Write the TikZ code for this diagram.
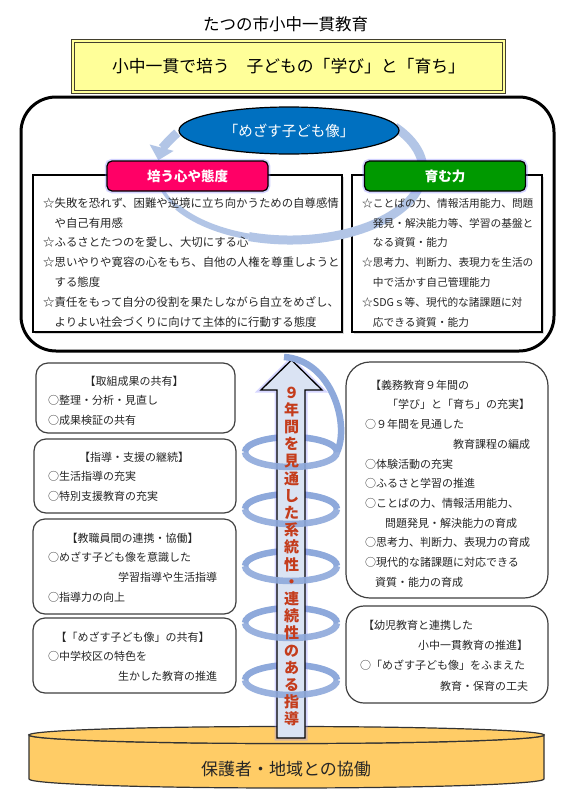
\documentclass[tikz,border=0pt]{standalone}
\usepackage{fontspec}
\setmainfont{Noto Sans CJK JP}
\usetikzlibrary{arrows.meta,shapes.geometric,shadows}
\definecolor{pinktab}{HTML}{FF0066}
\definecolor{greentab}{HTML}{009900}
\definecolor{goalblue}{HTML}{0070C0}
\definecolor{themeyellow}{HTML}{FFFF99}
\definecolor{cycleblue}{HTML}{B2C5E6}
\definecolor{ribbonblue}{HTML}{8EA9DB}
\definecolor{shaftblue}{HTML}{DAE3F3}
\definecolor{shidoured}{HTML}{C43C1C}
\definecolor{discyellow}{HTML}{FFCC66}
\newcommand{\jpsize}[2]{\fontsize{#1}{#2}\selectfont}

\begin{document}
\begin{tikzpicture}[x=1pt,y=-1pt,
  txt/.style={inner sep=0pt,anchor=base west,text=black!85},
  topbox/.style={draw=black,line width=2pt,fill=white,
    drop shadow={shadow xshift=1.5pt,shadow yshift=-1.5pt,opacity=.3}},
  lbox/.style={draw=black!75,line width=1.2pt,fill=white},
  tab/.style={draw=black,line width=1.2pt,rounded corners=5pt,text=white,
    font=\jpsize{13.5}{16}\bfseries,minimum width=161pt,minimum height=30pt,
    preaction={draw=blue!50,line width=4.5pt,opacity=.35}},
  cyc/.style={draw=cycleblue,line width=9pt},
  ribbon/.style={draw=ribbonblue,line width=6.5pt},
  disc/.style={draw=black!80,line width=1.2pt,fill=discyellow}]
\useasboundingbox[fill=white] (0,0) rectangle (577,800);

% heading
\node[font=\jpsize{16.5}{20}] (title) at (285.5,24) {たつの市小中一貫教育};
\node[draw=black!70!olive,double=themeyellow,double distance=2pt,line width=.9pt,
  fill=themeyellow,minimum width=431pt,minimum height=51pt,font=\jpsize{16.8}{20}]
  (theme) at (288.5,66.5) {小中一貫で培う　子どもの「学び」と「育ち」};

% goal frame
\draw[line width=3pt,rounded corners=35pt] (21,97) rectangle (554,351);
\draw[topbox] (33,175) rectangle (342,332);
\draw[topbox] (352,175) rectangle (542,332);

% cycle arrow, thin at the lower left
\draw[cyc,-{Triangle[width=24pt,length=13pt]}] (290,170) ++(212:133 and 70)
  arc[start angle=212,end angle=188,x radius=133,y radius=70];
\draw[cyc,line width=3.5pt] (290,170) ++(186:133 and 70)
  arc[start angle=186,end angle=148,x radius=133,y radius=70];
\draw[cyc,line width=6pt] (290,170) ++(148:133 and 70)
  arc[start angle=148,end angle=108,x radius=133,y radius=70];
\draw[cyc] (290,170) ++(108:133 and 70)
  arc[start angle=108,end angle=-38,x radius=133,y radius=70];

\node[txt,text width=300pt,font=\jpsize{11.4}{19.8}] (kokoroT) at (43,207.2)
  {☆失敗を恐れず、困難や逆境に立ち向かうための自尊感情\\\hspace*{1em}や自己有用感\\☆ふるさとたつのを愛し、大切にする心\\☆思いやりや寛容の心をもち、自他の人権を尊重しようと\\\hspace*{1em}する態度\\☆責任をもって自分の役割を果たしながら自立をめざし、\\\hspace*{1em}よりよい社会づくりに向けて主体的に行動する態度};
\node[txt,text width=180pt,font=\jpsize{10.7}{19.8}] (chikaraT) at (362,207.2)
  {☆ことばの力、情報活用能力、問題\\\hspace*{1em}発見・解決能力等、学習の基盤と\\\hspace*{1em}なる資質・能力\\☆思考力、判断力、表現力を生活の\\\hspace*{1em}中で活かす自己管理能力\\☆SDGｓ等、現代的な諸課題に対\\\hspace*{1em}応できる資質・能力};
\node[ellipse,draw=black,line width=1.2pt,fill=goalblue,minimum width=220pt,
  minimum height=47pt,text=white,font=\jpsize{14.5}{17}] (mezasu) at (289,130.5)
  {「めざす子ども像」};
\node[tab,fill=pinktab] (kokoro) at (187.5,176) {培う心や態度};
\node[tab,fill=greentab] (chikara) at (445,176) {育む力};

% left boxes
\draw[lbox,rounded corners=12pt] (36,363) rectangle (235,433);
\draw[lbox,rounded corners=12pt] (34,439) rectangle (236,513);
\draw[lbox,rounded corners=12pt] (33,519) rectangle (236,614);
\draw[lbox,rounded corners=12pt] (33,618) rectangle (236,693);
\node[txt,text width=172pt,font=\jpsize{11}{19.6}] (torikumi) at (48,385.2)
  {{\centering 【取組成果の共有】\par}○整理・分析・見直し\\○成果検証の共有};
\node[txt,text width=172pt,font=\jpsize{11}{19.6}] (keizoku) at (48,461.2)
  {{\centering 【指導・支援の継続】\par}○生活指導の充実\\○特別支援教育の充実};
\node[txt,text width=169pt,font=\jpsize{11}{19.7}] (renkei) at (48,542.2)
  {{\centering 【教職員間の連携・協働】\par}○めざす子ども像を意識した\\\hspace*{\fill}学習指導や生活指導\\○指導力の向上};
\node[txt,text width=169pt,font=\jpsize{11}{19.7}] (kyoyu) at (48,641.2)
  {{\centering 【「めざす子ども像」の共有】\par}○中学校区の特色を\\\hspace*{\fill}生かした教育の推進};

% right boxes
\draw[lbox,rounded corners=24pt] (346,362) rectangle (548,598);
\draw[lbox,rounded corners=18pt] (346,606) rectangle (548,703);
\node[txt,text width=165pt,font=\jpsize{11}{19.7}] (gimu) at (365,389.2)
  {\hspace*{5pt}【義務教育９年間の\\\hspace*{\fill}「学び」と「育ち」の充実】\\○９年間を見通した\\\hspace*{\fill}教育課程の編成\hspace*{7pt}\\○体験活動の充実\\○ふるさと学習の推進\\○ことばの力、情報活用能力、\\\hspace*{20pt}問題発見・解決能力の育成\\○思考力、判断力、表現力の育成\\○現代的な諸課題に対応できる\\\hspace*{10pt}資質・能力の育成};
\node[txt,text width=168pt,font=\jpsize{11}{20.3}] (yoji) at (360,629.2)
  {\hspace*{3pt}【幼児教育と連携した\\\hspace*{\fill}小中一貫教育の推進】\\○「めざす子ども像」をふまえた\\\hspace*{\fill}教育・保育の工夫};

% base disc
\draw[disc] (29,735) -- (29,779) arc[start angle=180,end angle=0,x radius=257.5,y radius=9]
  -- (544,735) arc[start angle=0,end angle=180,x radius=257.5,y radius=8.5] -- cycle;
\draw[disc] (286.5,735) ellipse[x radius=257.5,y radius=8.5];
\node[font=\jpsize{17}{20},text=black!85] (kyodo) at (286,769) {保護者・地域との協働};

% spiral and arrow
\foreach \c in {452,509,566,623,680}
  \draw[ribbon] (245,\c) arc[start angle=180,end angle=360,x radius=46,y radius=15];
\draw[draw=black,line width=1.3pt,fill=shaftblue,
  preaction={draw=blue!45,line width=5pt,opacity=.35}]
  (277,738) -- (277,390) -- (261,390) -- (291.5,360) -- (322,390) -- (305,390) -- (305,738) -- cycle;
\foreach \c in {452,509,566,623,680}
  \draw[ribbon,opacity=.9] (337,\c) arc[start angle=0,end angle=180,x radius=46,y radius=15];
\draw[ribbon] (284,357) .. controls (332,360) and (350,425) .. (337,452);
\node[font=\jpsize{15}{17.2}\bfseries,text=shidoured,align=center,inner sep=0pt] (shidou)
  at (291.5,556.5) {９\\年\\間\\を\\見\\通\\し\\た\\系\\統\\性\\・\\連\\続\\性\\の\\あ\\る\\指\\導};
\end{tikzpicture}
\end{document}
